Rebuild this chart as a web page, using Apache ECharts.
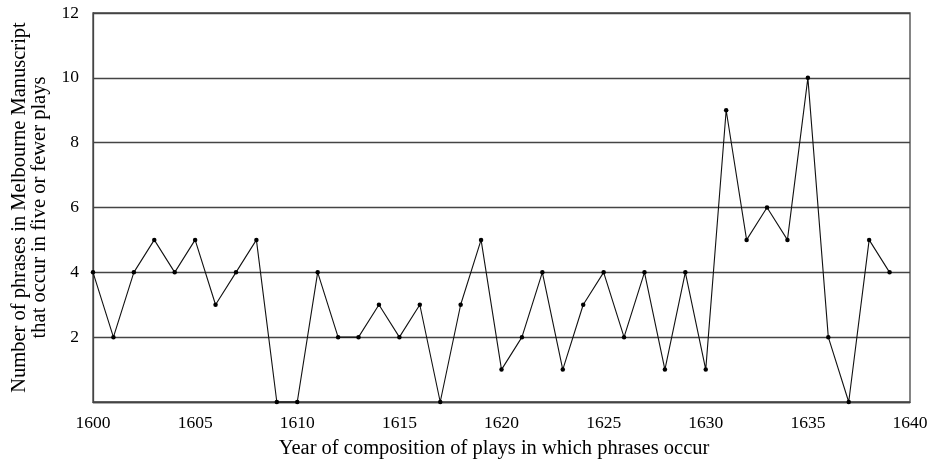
<!DOCTYPE html>
<html>
<head>
<meta charset="utf-8">
<script src="https://cdn.jsdelivr.net/npm/echarts@6/dist/echarts.min.js"></script>
<style>
  html, body { margin: 0; padding: 0; background: #fff; }
  #chart { width: 934px; height: 462px; }
</style>
</head>
<body>
<div id="chart"></div>
<script>
const years = [1600, 1601, 1602, 1603, 1604, 1605, 1606, 1607, 1608, 1609,
  1610, 1611, 1612, 1613, 1614, 1615, 1616, 1617, 1618, 1619,
  1620, 1621, 1622, 1623, 1624, 1625, 1626, 1627, 1628, 1629,
  1630, 1631, 1632, 1633, 1634, 1635, 1636, 1637, 1638, 1639]
const phraseCounts = [4, 2, 4, 5, 4, 5, 3, 4, 5, 0,
  0, 4, 2, 2, 3, 2, 3, 0, 3, 5,
  1, 2, 4, 1, 3, 4, 2, 4, 1, 4,
  1, 9, 5, 6, 5, 10, 2, 0, 5, 4]

const fontFamily = '"Liberation Serif", "DejaVu Serif", serif'
const gridColor = '#444'
const textColor = '#000'

const chart = echarts.init(document.getElementById('chart'))

chart.setOption({
  animation: false,
  textStyle: { fontFamily },
  grid: {
    left: 93, right: 24, top: 13, bottom: 60,
    outerBoundsMode: 'none', containLabel: false,
    show: true, borderColor: gridColor, borderWidth: 1.3
  },
  xAxis: {
    type: 'value',
    min: 1600,
    max: 1640,
    interval: 5,
    name: 'Year of composition of plays in which phrases occur',
    nameLocation: 'middle',
    nameGap: 36,
    nameTextStyle: { fontFamily, fontSize: 20.5, color: textColor, padding: [0, 15, 0, 0] },
    axisLine: { lineStyle: { color: gridColor, width: 1.3 } },
    axisTick: { show: false },
    splitLine: { show: false },
    axisLabel: { fontFamily, fontSize: 17.5, color: textColor, margin: 12, formatter: v => String(v) }
  },
  yAxis: {
    type: 'value',
    min: 0,
    max: 12,
    interval: 2,
    name: 'Number of phrases in Melbourne Manuscript\nthat occur in five or fewer plays',
    nameLocation: 'middle',
    nameGap: 43,
    nameRotate: 90,
    nameTextStyle: { fontFamily, fontSize: 20.5, color: textColor, lineHeight: 20 },
    axisLine: { show: true, lineStyle: { color: gridColor, width: 1.3 } },
    axisTick: { show: false },
    splitLine: { lineStyle: { color: gridColor, width: 1.3 } },
    axisLabel: {
      fontFamily, fontSize: 17.5, color: textColor, margin: 14,
      formatter: v => (v === 0 ? '' : String(v))
    }
  },
  series: [{
    type: 'line',
    data: years.map((y, i) => [y, phraseCounts[i]]),
    symbol: 'circle',
    symbolSize: 4.5,
    itemStyle: { color: '#000' },
    lineStyle: { color: '#111', width: 1.1 },
    clip: false
  }]
})
</script>
</body>
</html>
